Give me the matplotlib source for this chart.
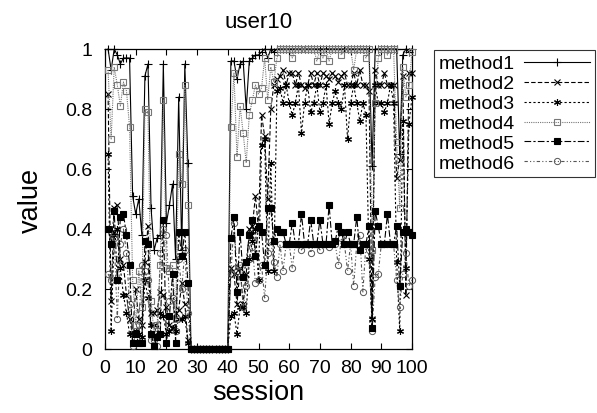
import numpy as np
import matplotlib
matplotlib.use("Agg")
import matplotlib.pyplot as plt

plt.rcParams['font.family'] = ['Liberation Sans', 'DejaVu Sans']

sessions = np.arange(1, 101)
zeros = [0.0] * 13

method1 = ([1.0, 0.93, 1.0, 0.98, 0.95, 0.97, 0.97, 0.97, 0.51, 0.45, 0.50, 0.38, 0.91, 0.95,
            0.47, 0.33, 0.37, 0.38, 0.95, 0.42, 0.48, 0.55, 0.30, 0.84, 0.33, 0.95, 0.62]
           + zeros
           + [0.96, 0.96, 0.90, 0.95, 0.96, 0.80, 0.96, 0.97, 0.98, 0.98,
              0.99, 1.0, 0.97, 1.0, 0.99, 1.0, 1.0, 1.0, 1.0, 1.0,
              1.0, 1.0, 1.0, 1.0, 1.0, 1.0, 1.0, 1.0, 1.0, 1.0,
              1.0, 1.0, 1.0, 1.0, 1.0, 1.0, 1.0, 1.0, 1.0, 1.0,
              1.0, 1.0, 1.0, 1.0, 1.0, 1.0, 0.61, 1.0, 1.0, 1.0,
              1.0, 1.0, 1.0, 1.0, 1.0, 0.65, 0.98, 1.0, 0.99, 1.0])

method2 = ([0.85, 0.16, 0.47, 0.48, 0.30, 0.28, 0.18, 0.10, 0.05, 0.20, 0.10, 0.08, 0.29, 0.41,
            0.12, 0.12, 0.13, 0.19, 0.18, 0.14, 0.08, 0.07, 0.12, 0.13, 0.22, 0.15, 0.03]
           + zeros
           + [0.27, 0.25, 0.15, 0.27, 0.15, 0.25, 0.40, 0.41, 0.51, 0.40,
              0.78, 0.71, 0.50, 0.80, 0.88, 0.90, 0.91, 0.93, 0.88, 0.92,
              0.92, 0.88, 0.92, 0.88, 0.87, 0.88, 0.92, 0.88, 0.92, 0.88,
              0.92, 0.91, 0.90, 0.92, 0.91, 0.89, 0.91, 0.92, 0.88, 0.88,
              0.92, 0.88, 0.93, 0.88, 0.88, 0.86, 0.10, 0.93, 0.88, 0.88,
              0.92, 0.88, 0.88, 0.88, 0.57, 0.63, 0.91, 0.18, 0.92, 0.92])

method3 = ([0.65, 0.06, 0.38, 0.40, 0.27, 0.18, 0.12, 0.05, 0.05, 0.06, 0.05, 0.04, 0.23, 0.17,
            0.08, 0.08, 0.04, 0.12, 0.11, 0.05, 0.06, 0.07, 0.06, 0.10, 0.10, 0.11, 0.02]
           + zeros
           + [0.11, 0.12, 0.05, 0.14, 0.14, 0.12, 0.30, 0.36, 0.40, 0.23,
              0.68, 0.70, 0.26, 0.62, 0.26, 0.86, 0.87, 0.82, 0.88, 0.82,
              0.78, 0.82, 0.88, 0.72, 0.82, 0.88, 0.79, 0.82, 0.88, 0.79,
              0.82, 0.88, 0.75, 0.82, 0.86, 0.82, 0.80, 0.88, 0.70, 0.82,
              0.88, 0.82, 0.76, 0.82, 0.78, 0.30, 0.10, 0.88, 0.82, 0.82,
              0.79, 0.82, 0.88, 0.82, 0.29, 0.06, 0.76, 0.27, 0.75, 0.84])

method4 = ([0.93, 0.70, 0.94, 0.88, 0.81, 0.89, 0.86, 0.74, 0.23, 0.08, 0.26, 0.14, 0.80, 0.79,
            0.16, 0.05, 0.08, 0.28, 0.83, 0.27, 0.26, 0.28, 0.10, 0.65, 0.55, 0.88, 0.48]
           + zeros
           + [0.74, 0.92, 0.64, 0.81, 0.72, 0.62, 0.78, 0.83, 0.88, 0.85,
              0.87, 0.97, 0.83, 0.94, 0.89, 0.97, 1.0, 1.0, 1.0, 1.0,
              0.97, 1.0, 1.0, 1.0, 1.0, 1.0, 1.0, 1.0, 0.96, 1.0,
              0.97, 1.0, 0.96, 1.0, 1.0, 1.0, 0.98, 1.0, 1.0, 1.0,
              0.93, 1.0, 1.0, 1.0, 0.97, 1.0, 0.33, 0.82, 0.97, 1.0,
              1.0, 0.98, 1.0, 1.0, 0.69, 0.47, 0.94, 0.84, 0.88, 0.99])

method5 = ([0.40, 0.35, 0.46, 0.23, 0.44, 0.45, 0.38, 0.28, 0.02, 0.05, 0.02, 0.02, 0.36, 0.35,
            0.05, 0.01, 0.04, 0.05, 0.43, 0.02, 0.11, 0.25, 0.02, 0.39, 0.31, 0.39, 0.22]
           + zeros
           + [0.37, 0.44, 0.19, 0.39, 0.24, 0.29, 0.38, 0.43, 0.31, 0.41,
              0.39, 0.28, 0.47, 0.47, 0.36, 0.40, 0.39, 0.39, 0.35, 0.35,
              0.42, 0.35, 0.35, 0.45, 0.35, 0.35, 0.43, 0.35, 0.35, 0.43,
              0.35, 0.35, 0.48, 0.35, 0.36, 0.41, 0.39, 0.35, 0.39, 0.35,
              0.35, 0.44, 0.33, 0.35, 0.35, 0.41, 0.07, 0.46, 0.41, 0.35,
              0.35, 0.45, 0.35, 0.35, 0.41, 0.21, 0.39, 0.40, 0.39, 0.38])

method6 = ([0.25, 0.23, 0.37, 0.10, 0.35, 0.40, 0.32, 0.15, 0.01, 0.05, 0.08, 0.28, 0.26, 0.23,
            0.03, 0.03, 0.01, 0.32, 0.40, 0.38, 0.16, 0.17, 0.06, 0.30, 0.20, 0.33, 0.12]
           + zeros
           + [0.25, 0.42, 0.26, 0.28, 0.14, 0.21, 0.30, 0.34, 0.22, 0.23,
              0.28, 0.17, 0.32, 0.36, 0.29, 0.24, 0.35, 0.26, 0.35, 0.35,
              0.27, 0.35, 0.35, 0.33, 0.35, 0.35, 0.32, 0.35, 0.35, 0.33,
              0.35, 0.35, 0.34, 0.35, 0.35, 0.28, 0.37, 0.35, 0.26, 0.35,
              0.21, 0.35, 0.38, 0.19, 0.35, 0.33, 0.06, 0.24, 0.25, 0.35,
              0.35, 0.35, 0.35, 0.35, 0.23, 0.14, 0.25, 0.32, 0.21, 0.23])

labels = ["method1", "method2", "method3", "method4", "method5", "method6"]
x_ticks = list(range(0, 101, 10))
y_ticks = [0, 0.2, 0.4, 0.6, 0.8, 1]
y_tick_labels = ["0", "0.2", "0.4", "0.6", "0.8", "1"]

fig = plt.figure(figsize=(5.97, 4.14), dpi=100)
ax = fig.add_axes([105 / 597, 1 - 350 / 414, 307 / 597, 300 / 414])

asterisk = (6, 2, 0)
styles = [
    dict(color="black", ls="-", marker="+", ms=6, mew=0.8, zorder=3),
    dict(color="black", ls=(0, (4, 2)), marker="x", ms=4.5, mew=0.8, zorder=3),
    dict(color="black", ls=(0, (2, 2)), marker=asterisk, ms=5, mew=0.8, zorder=3),
    dict(color="#777777", ls=(0, (1, 1)), marker="s", ms=5, mew=0.8, mfc="none", zorder=3),
    dict(color="black", ls=(0, (6, 2, 2, 2)), marker="s", ms=5, mew=0.8, mfc="black", zorder=4),
    dict(color="#555555", ls=(0, (3, 2, 1, 2, 1, 2)), marker="o", ms=4.5, mew=0.7, mfc="none", zorder=3),
]
series = [method1, method2, method3, method4, method5, method6]
for vals, lab, st in zip(series, labels, styles):
    ax.plot(sessions, vals, label=lab, lw=0.8, clip_on=False, **st)

ax.set_xlim(0, 100)
ax.set_ylim(0, 1)
ax.set_xticks(x_ticks)
ax.set_yticks(y_ticks)
ax.set_yticklabels(y_tick_labels)
ax.tick_params(direction="in", top=True, right=True, labelsize=14, length=4)
ax.tick_params(axis="x", pad=7)
ax.tick_params(axis="y", pad=9)
for sp in ax.spines.values():
    sp.set_linewidth(0.9)

ax.set_title("user10", fontsize=16, pad=16)
ax.set_xlabel("session", fontsize=19.5)
ax.set_ylabel("value", fontsize=19.5)
ax.xaxis.set_label_coords(0.5, -0.1)
ax.yaxis.set_label_coords(-0.2, 0.5)

leg = ax.legend(loc="upper left", bbox_to_anchor=(434 / 597, 1 - 51 / 414),
                bbox_transform=fig.transFigure, markerfirst=False, frameon=True,
                fancybox=False, edgecolor="black", fontsize=14, handlelength=3.4,
                borderpad=0.25, labelspacing=0.12, handletextpad=0.45, borderaxespad=0)
leg.get_frame().set_linewidth(0.8)

fig.savefig("out.png", dpi=100)
